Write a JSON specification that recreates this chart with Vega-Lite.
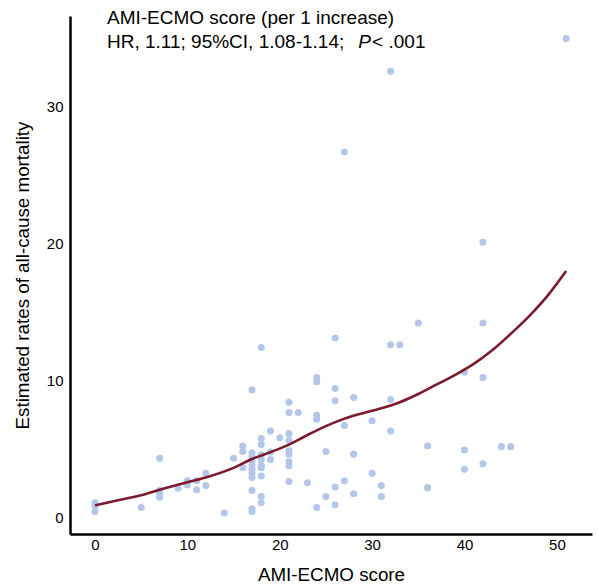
{
  "$schema": "https://vega.github.io/schema/vega-lite/v6.json",
  "autosize": "none",
  "width": 522,
  "height": 518,
  "padding": {"left": 70, "top": 16, "right": 6, "bottom": 51},
  "background": "white",
  "config": {
    "view": {"stroke": null},
    "font": "Liberation Sans",
    "axis": {
      "grid": false,
      "ticks": false,
      "domainColor": "black",
      "domainWidth": 2.5,
      "labelColor": "black",
      "labelFont": "Liberation Sans",
      "labelFontSize": 15,
      "titleFont": "Liberation Sans",
      "titleFontSize": 18.8,
      "titleFontWeight": "normal",
      "titleColor": "black"
    }
  },
  "datasets": {
    "pts": [
      {"score": 0, "rate": 1.05}, {"score": 0, "rate": 0.8}, {"score": 0, "rate": 0.4},
      {"score": 5, "rate": 0.7},
      {"score": 7, "rate": 4.3}, {"score": 7, "rate": 1.95}, {"score": 7, "rate": 1.7}, {"score": 7, "rate": 1.45},
      {"score": 9, "rate": 2.1},
      {"score": 10, "rate": 2.65}, {"score": 10, "rate": 2.35},
      {"score": 11, "rate": 2.65}, {"score": 11, "rate": 2.0},
      {"score": 12, "rate": 3.2}, {"score": 12, "rate": 2.3},
      {"score": 14, "rate": 0.3},
      {"score": 15, "rate": 4.3},
      {"score": 16, "rate": 5.2}, {"score": 16, "rate": 4.8}, {"score": 16, "rate": 3.6},
      {"score": 17, "rate": 9.3}, {"score": 17, "rate": 4.7}, {"score": 17, "rate": 4.4}, {"score": 17, "rate": 4.1}, {"score": 17, "rate": 3.8}, {"score": 17, "rate": 3.5}, {"score": 17, "rate": 3.2}, {"score": 17, "rate": 2.9}, {"score": 17, "rate": 1.95}, {"score": 17, "rate": 0.6}, {"score": 17, "rate": 0.4},
      {"score": 18, "rate": 12.4}, {"score": 18, "rate": 5.75}, {"score": 18, "rate": 5.3}, {"score": 18, "rate": 4.55}, {"score": 18, "rate": 4.2}, {"score": 18, "rate": 3.75}, {"score": 18, "rate": 3.6}, {"score": 18, "rate": 3.0}, {"score": 18, "rate": 1.5}, {"score": 18, "rate": 1.05},
      {"score": 19, "rate": 6.3}, {"score": 19, "rate": 4.75}, {"score": 19, "rate": 4.2},
      {"score": 20, "rate": 5.8},
      {"score": 21, "rate": 8.4}, {"score": 21, "rate": 7.65}, {"score": 21, "rate": 6.1}, {"score": 21, "rate": 5.6}, {"score": 21, "rate": 4.85}, {"score": 21, "rate": 4.6}, {"score": 21, "rate": 4.05}, {"score": 21, "rate": 3.75}, {"score": 21, "rate": 2.6},
      {"score": 22, "rate": 7.65},
      {"score": 23, "rate": 2.5},
      {"score": 24, "rate": 10.2}, {"score": 24, "rate": 9.9}, {"score": 24, "rate": 7.45}, {"score": 24, "rate": 7.15}, {"score": 24, "rate": 0.7},
      {"score": 25, "rate": 4.8}, {"score": 25, "rate": 1.5},
      {"score": 26, "rate": 13.1}, {"score": 26, "rate": 9.4}, {"score": 26, "rate": 8.5}, {"score": 26, "rate": 2.2}, {"score": 26, "rate": 0.9},
      {"score": 27, "rate": 26.7}, {"score": 27, "rate": 6.7}, {"score": 27, "rate": 2.65},
      {"score": 28, "rate": 8.75}, {"score": 28, "rate": 4.6}, {"score": 28, "rate": 1.7},
      {"score": 30, "rate": 7.05}, {"score": 30, "rate": 3.2},
      {"score": 31, "rate": 2.3}, {"score": 31, "rate": 1.5},
      {"score": 32, "rate": 32.6}, {"score": 32, "rate": 12.6}, {"score": 32, "rate": 8.6}, {"score": 32, "rate": 6.3},
      {"score": 33, "rate": 12.6},
      {"score": 35, "rate": 14.2},
      {"score": 36, "rate": 5.2}, {"score": 36, "rate": 2.15},
      {"score": 40, "rate": 10.6}, {"score": 40, "rate": 4.9}, {"score": 40, "rate": 3.5},
      {"score": 42, "rate": 20.1}, {"score": 42, "rate": 14.2}, {"score": 42, "rate": 10.2}, {"score": 42, "rate": 3.9},
      {"score": 44, "rate": 5.15}, {"score": 45, "rate": 5.15},
      {"score": 51, "rate": 35.0}
    ],
    "curve": [
      {"score": 0, "rate": 0.86}, {"score": 3, "rate": 1.3}, {"score": 5, "rate": 1.6}, {"score": 7, "rate": 2.0},
      {"score": 10, "rate": 2.55}, {"score": 12, "rate": 2.9}, {"score": 15, "rate": 3.6}, {"score": 17, "rate": 4.25},
      {"score": 19, "rate": 4.75}, {"score": 21, "rate": 5.3}, {"score": 23, "rate": 6.0}, {"score": 25, "rate": 6.65},
      {"score": 27, "rate": 7.2}, {"score": 29, "rate": 7.6}, {"score": 31, "rate": 7.95}, {"score": 33, "rate": 8.4},
      {"score": 35, "rate": 9.0}, {"score": 37, "rate": 9.7}, {"score": 39, "rate": 10.4}, {"score": 41, "rate": 11.2},
      {"score": 43, "rate": 12.2}, {"score": 45, "rate": 13.4}, {"score": 47, "rate": 14.7}, {"score": 49, "rate": 16.2},
      {"score": 51, "rate": 18.0}
    ],
    "notes": [
      {"score": 1.3, "rate": 36.5, "label": "AMI-ECMO score (per 1 increase)", "style": "normal"},
      {"score": 1.3, "rate": 34.75, "label": "HR, 1.11; 95%CI, 1.08-1.14;", "style": "normal"},
      {"score": 28.5, "rate": 34.75, "label": "P", "style": "italic"},
      {"score": 30.0, "rate": 34.75, "label": "< .001", "style": "normal"}
    ]
  },
  "encoding": {
    "x": {
      "field": "score", "type": "quantitative",
      "scale": {"domain": [-2.7, 53.8], "nice": false, "zero": false},
      "axis": {"title": "AMI-ECMO score", "values": [0, 10, 20, 30, 40, 50], "labelPadding": 3, "titlePadding": 13}
    },
    "y": {
      "field": "rate", "type": "quantitative",
      "scale": {"domain": [-1.24, 36.65], "nice": false, "zero": false},
      "axis": {"title": "Estimated rates of all-cause mortality", "values": [0, 10, 20, 30], "labelPadding": 7, "titlePadding": 14}
    }
  },
  "layer": [
    {
      "data": {"name": "pts"},
      "mark": {"type": "circle", "size": 50, "color": "#b4c6ea", "opacity": 1}
    },
    {
      "data": {"name": "curve"},
      "mark": {"type": "line", "interpolate": "monotone", "color": "#7b1a2c", "strokeWidth": 2.6}
    },
    {
      "data": {"name": "notes"},
      "transform": [{"filter": "datum.style === 'normal'"}],
      "mark": {"type": "text", "align": "left", "baseline": "middle", "fontSize": 19, "color": "black", "font": "Liberation Sans"},
      "encoding": {"text": {"field": "label"}}
    },
    {
      "data": {"name": "notes"},
      "transform": [{"filter": "datum.style === 'italic'"}],
      "mark": {"type": "text", "align": "left", "baseline": "middle", "fontSize": 19, "fontStyle": "italic", "color": "black", "font": "Liberation Sans"},
      "encoding": {"text": {"field": "label"}}
    }
  ]
}
